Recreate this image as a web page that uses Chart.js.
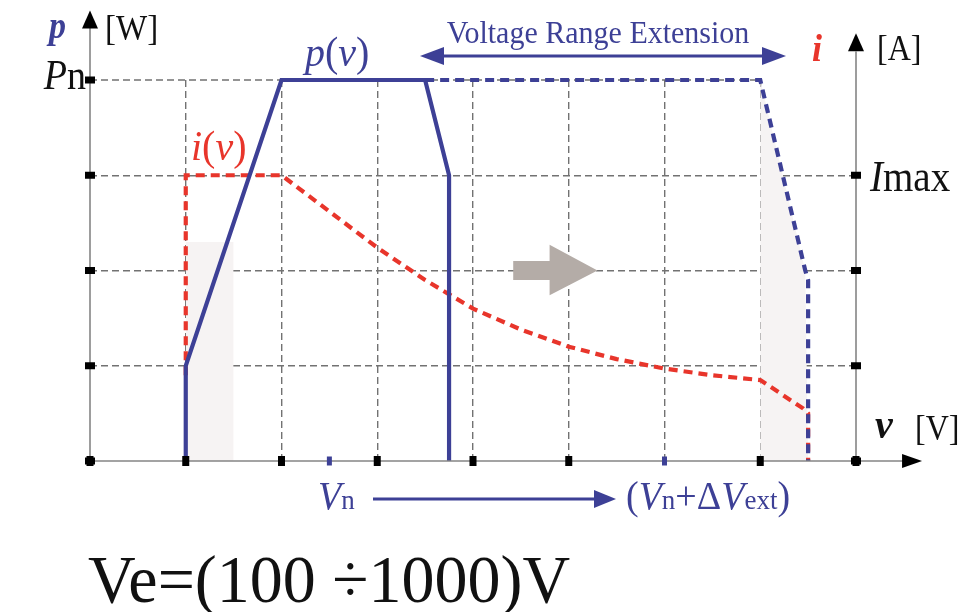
<!DOCTYPE html>
<html>
<head>
<meta charset="utf-8">
<script src="https://cdn.jsdelivr.net/npm/chart.js@4.4.0/dist/chart.umd.min.js"></script>
<style>
  html, body { margin: 0; padding: 0; background: #fff; }
</style>
</head>
<body>
<canvas id="vrChart" width="973" height="612"></canvas>
<script>
// all values in grid units (1 unit = one dashed grid cell)
// p(v), nominal voltage range
const pV = [1, 1, 2, 3.5, 3.75, 3.75];
const pW = [0, 1, 4, 4, 3, 0];
// p(v), extended voltage range (dashed)
const pExtV = [3.5, 7, 7.47, 7.5, 7.5];
const pExtW = [4, 4, 2, 1.9, 0];
// i(v)
const iV = [1, 1, 2, 2.5, 3, 3.5, 4, 4.5, 5, 5.5, 6, 6.5, 7, 7.45, 7.5, 7.5];
const iA = [0.9, 3, 3, 2.62, 2.24, 1.9, 1.6, 1.38, 1.2, 1.07, 0.97, 0.9, 0.85, 0.55, 0.5, 0];
// Pn reference level
const pnV = [0, 7];
const pnW = [4, 4];
// shaded zones
const shadeLV = [1, 1.5];
const shadeLA = [2.3, 2.3];
const shadeRV = [7, 7.47, 7.5];
const shadeRA = [4, 2, 0];
// axis tick marks
const xTicks = [0, 1, 2, 3, 4, 5, 7, 8];
const xBlueTicks = [2.5, 6];
const yTicks = [0, 1, 2, 3, 4];
const y2Ticks = [0, 1, 2, 3];

const blue = '#3d4096';
const red = '#e8352b';
const gridGray = '#727272';
const shade = '#f6f3f3';
const serif = '"Liberation Serif", "Times New Roman", serif';

function pts(xs, ys) {
    return xs.map((x, i) => ({ x: x, y: ys[i] }));
}

// draws mixed-style text runs; sy stretches the glyphs vertically
function drawRuns(ctx, parts, x, y, align, sy) {
    sy = sy || 1;
    let w = 0;
    parts.forEach(p => { ctx.font = p.f; w += ctx.measureText(p.t).width; });
    let cx = align === 'right' ? x - w : (align === 'center' ? x - w / 2 : x);
    ctx.save();
    ctx.translate(0, y);
    ctx.scale(1, sy);
    parts.forEach(p => {
        ctx.font = p.f;
        ctx.fillStyle = p.c;
        ctx.fillText(p.t, cx, 0);
        cx += ctx.measureText(p.t).width;
    });
    ctx.restore();
}

function arrowHead(ctx, tx, ty, dir, len, half, color) {
    ctx.fillStyle = color;
    ctx.beginPath();
    if (dir === 'up') {
        ctx.moveTo(tx, ty); ctx.lineTo(tx - half, ty + len); ctx.lineTo(tx + half, ty + len);
    } else if (dir === 'right') {
        ctx.moveTo(tx, ty); ctx.lineTo(tx - len, ty - half); ctx.lineTo(tx - len, ty + half);
    } else {
        ctx.moveTo(tx, ty); ctx.lineTo(tx + len, ty - half); ctx.lineTo(tx + len, ty + half);
    }
    ctx.closePath();
    ctx.fill();
}

const decorations = {
    id: 'decorations',
    afterDraw(chart) {
        const ctx = chart.ctx;
        const xs = chart.scales.x, ys = chart.scales.y;
        const X = v => xs.getPixelForValue(v);
        const Y = v => ys.getPixelForValue(v);
        ctx.save();
        ctx.textBaseline = 'alphabetic';

        // axes
        ctx.strokeStyle = '#858585';
        ctx.lineWidth = 1.6;
        ctx.beginPath();
        ctx.moveTo(X(0), Y(0)); ctx.lineTo(X(8.5), Y(0));
        ctx.moveTo(X(0), Y(0)); ctx.lineTo(X(0), Y(4.55));
        ctx.moveTo(X(8), Y(0)); ctx.lineTo(X(8), Y(4.3));
        ctx.stroke();
        arrowHead(ctx, X(8.69), Y(0), 'right', 20, 7, '#000');
        arrowHead(ctx, X(0), Y(4.73), 'up', 18, 8, '#000');
        arrowHead(ctx, X(8), Y(4.49), 'up', 18, 8, '#000');

        // tick marks
        ctx.fillStyle = '#000';
        xTicks.forEach(v => ctx.fillRect(X(v) - 3.5, Y(0) - 5, 7, 10));
        yTicks.forEach(v => ctx.fillRect(X(0) - 5, Y(v) - 3.5, 10, 7));
        y2Ticks.forEach(v => ctx.fillRect(X(8) - 5, Y(v) - 3.5, 10, 7));
        ctx.fillStyle = blue;
        xBlueTicks.forEach(v => ctx.fillRect(X(v) - 2.5, Y(0) - 4.5, 5, 9));

        // grey shift arrow
        ctx.fillStyle = '#b4aca7';
        ctx.beginPath();
        ctx.moveTo(X(4.42), Y(2.1));
        ctx.lineTo(X(4.8), Y(2.1));
        ctx.lineTo(X(4.8), Y(2.27));
        ctx.lineTo(X(5.3), Y(2));
        ctx.lineTo(X(4.8), Y(1.74));
        ctx.lineTo(X(4.8), Y(1.9));
        ctx.lineTo(X(4.42), Y(1.9));
        ctx.closePath();
        ctx.fill();

        // voltage range extension arrow
        ctx.strokeStyle = blue;
        ctx.lineWidth = 3;
        ctx.beginPath();
        ctx.moveTo(440, 56); ctx.lineTo(768, 56);
        ctx.stroke();
        arrowHead(ctx, 420, 56, 'left', 24, 9, blue);
        arrowHead(ctx, 786, 56, 'right', 24, 9, blue);
        drawRuns(ctx, [{ t: 'Voltage Range Extension', f: '30px ' + serif, c: blue }], 598, 43, 'center', 1.05);

        // Vn -> (Vn + dVext) arrow
        ctx.beginPath();
        ctx.moveTo(373, 499); ctx.lineTo(596, 499);
        ctx.stroke();
        arrowHead(ctx, 616, 499, 'right', 22, 9, blue);

        const it = sz => 'italic ' + sz + 'px ' + serif;
        const rg = sz => sz + 'px ' + serif;
        const bi = sz => 'italic bold ' + sz + 'px ' + serif;

        drawRuns(ctx, [{ t: 'V', f: it(38), c: blue }, { t: 'n', f: rg(27), c: blue }], 318, 509, 'left', 1.05);
        drawRuns(ctx, [
            { t: '(', f: rg(38), c: blue }, { t: 'V', f: it(38), c: blue }, { t: 'n', f: rg(27), c: blue },
            { t: '+\u0394', f: rg(38), c: blue }, { t: 'V', f: it(38), c: blue }, { t: 'ext', f: rg(27), c: blue },
            { t: ')', f: rg(38), c: blue }
        ], 626, 509, 'left', 1.05);

        // curve labels
        drawRuns(ctx, [{ t: 'p', f: it(40), c: blue }, { t: '(', f: rg(40), c: blue },
            { t: 'v', f: it(40), c: blue }, { t: ')', f: rg(40), c: blue }], 305, 66, 'left', 1.05);
        drawRuns(ctx, [{ t: 'i', f: it(40), c: red }, { t: '(', f: rg(40), c: red },
            { t: 'v', f: it(40), c: red }, { t: ')', f: rg(40), c: red }], 191, 160, 'left', 1.05);

        // axis labels
        drawRuns(ctx, [{ t: 'p', f: bi(34), c: blue }], 49, 38, 'left', 1.1);
        drawRuns(ctx, [{ t: '[W]', f: rg(33), c: '#111' }], 105, 40, 'left', 1.1);
        drawRuns(ctx, [{ t: 'P', f: it(38), c: '#111' }, { t: 'n', f: rg(38), c: '#111' }], 86, 89, 'right', 1.1);
        drawRuns(ctx, [{ t: 'i', f: bi(36), c: red }], 812, 61, 'left', 1.05);
        drawRuns(ctx, [{ t: '[A]', f: rg(32), c: '#111' }], 877, 60, 'left', 1.1);
        drawRuns(ctx, [{ t: 'I', f: it(39), c: '#111' }, { t: 'max', f: rg(39), c: '#111' }], 870, 191, 'left', 1.12);
        drawRuns(ctx, [{ t: 'v', f: bi(40), c: '#111' }], 875, 438, 'left', 1.05);
        drawRuns(ctx, [{ t: '[V]', f: rg(32), c: '#111' }], 915, 440, 'left', 1.1);

        // range note
        drawRuns(ctx, [{ t: 'Ve=(100 \u00f71000)V', f: rg(66), c: '#111' }], 88, 602, 'left', 1.02);
        ctx.restore();
    }
};

const ctx = document.getElementById('vrChart').getContext('2d');

new Chart(ctx, {
    type: 'line',
    data: {
        datasets: [
            { label: 'p(v)', data: pts(pV, pW), borderColor: blue, borderWidth: 4.2, pointRadius: 0, order: 0, clip: false },
            { label: 'p(v) extended', data: pts(pExtV, pExtW), borderColor: blue, borderWidth: 4.2, borderDash: [9, 6], pointRadius: 0, order: 1, clip: false },
            { label: 'i(v)', data: pts(iV, iA), borderColor: red, borderWidth: 4.2, borderDash: [9, 6], pointRadius: 0, order: 2, clip: false },
            { label: 'Pn', data: pts(pnV, pnW), borderColor: gridGray, borderWidth: 1.4, borderDash: [7, 4], pointRadius: 0, order: 3, clip: false },
            { label: 'shade nominal', data: pts(shadeLV, shadeLA), borderWidth: 0, borderColor: 'rgba(0,0,0,0)', backgroundColor: shade, fill: 'origin', pointRadius: 0, order: 5 },
            { label: 'shade extended', data: pts(shadeRV, shadeRA), borderWidth: 0, borderColor: 'rgba(0,0,0,0)', backgroundColor: shade, fill: 'origin', pointRadius: 0, order: 5 }
        ]
    },
    options: {
        responsive: false,
        animation: false,
        layout: { padding: { left: 90, right: 117, top: 80, bottom: 151 } },
        plugins: { legend: { display: false }, tooltip: { enabled: false } },
        scales: {
            x: {
                type: 'linear',
                min: 0,
                max: 8,
                ticks: { display: false, stepSize: 1 },
                grid: {
                    drawTicks: false,
                    lineWidth: 1.4,
                    color: c => (c.tick && c.tick.value > 0 && c.tick.value < 8) ? gridGray : 'rgba(0,0,0,0)'
                },
                border: { display: false, dash: [7, 4] }
            },
            y: {
                type: 'linear',
                min: 0,
                max: 4,
                ticks: { display: false, stepSize: 1 },
                grid: {
                    drawTicks: false,
                    lineWidth: 1.4,
                    color: c => (c.tick && c.tick.value > 0 && c.tick.value < 4) ? gridGray : 'rgba(0,0,0,0)'
                },
                border: { display: false, dash: [7, 4] }
            }
        }
    },
    plugins: [decorations]
});
</script>
</body>
</html>
